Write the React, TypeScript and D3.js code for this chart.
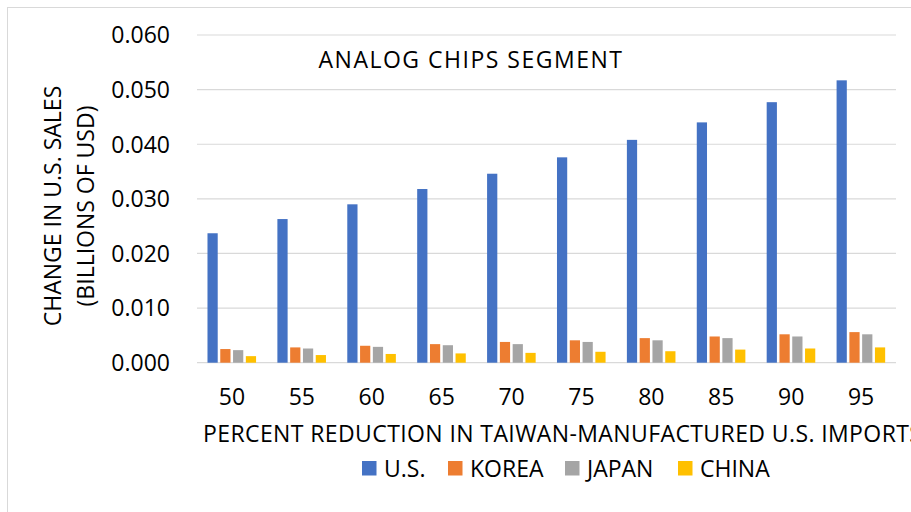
import React from "react";
import * as d3 from "d3";

// Percent reduction categories (x axis)
const categories: string[] = ["50", "55", "60", "65", "70", "75", "80", "85", "90", "95"];

// Change in U.S. sales, billions of USD, per origin
const usValues: number[] = [0.0237, 0.0263, 0.029, 0.0318, 0.0346, 0.0376, 0.0408, 0.044, 0.0477, 0.0517];
const koreaValues: number[] = [0.0025, 0.0028, 0.0031, 0.0034, 0.0038, 0.0041, 0.0045, 0.0048, 0.0052, 0.0056];
const japanValues: number[] = [0.0023, 0.0026, 0.0029, 0.0032, 0.0034, 0.0038, 0.0041, 0.0045, 0.0048, 0.0052];
const chinaValues: number[] = [0.0012, 0.0014, 0.0016, 0.0017, 0.0018, 0.002, 0.0021, 0.0024, 0.0026, 0.0028];

const seriesNames: string[] = ["U.S.", "KOREA", "JAPAN", "CHINA"];
const seriesColors: string[] = ["#4472C4", "#ED7D31", "#A5A5A5", "#FFC000"];
const yTicks: number[] = [0, 0.01, 0.02, 0.03, 0.04, 0.05, 0.06];

const W = 911;
const H = 512;
const FONT = "'Open Sans', 'Noto Sans', sans-serif";

export default function App() {
  const seriesValues = [usValues, koreaValues, japanValues, chinaValues];

  const plotLeft = 197;
  const plotRight = 896;
  const y = d3.scaleLinear().domain([0, 0.06]).range([362.7, 35]);
  const x0 = d3.scaleBand<string>().domain(categories).range([plotLeft, plotRight]).padding(0);
  const step = x0.step();
  const x1 = d3
    .scaleBand<string>()
    .domain(seriesNames)
    .range([step * 0.15, step * 0.845])
    .paddingInner(0.2)
    .paddingOuter(0);

  const fmt = d3.format(".3f");

  // legend layout
  const legendX = [362, 448, 565, 678];

  return (
    <svg
      width={W}
      height={H}
      style={{ position: "absolute", left: 0, top: 0, background: "#fff" }}
      fontFamily={FONT}
    >
      <rect x={0} y={0} width={W} height={H} fill="#fff" />
      <rect x={7.5} y={7.5} width={1200} height={1200} fill="none" stroke="#d9d9d9" strokeWidth={1} />

      {/* gridlines */}
      {yTicks.map((t) => (
        <line
          key={"g" + t}
          x1={plotLeft}
          x2={plotRight}
          y1={y(t)}
          y2={y(t)}
          stroke="#d9d9d9"
          strokeWidth={1.2}
        />
      ))}

      {/* y tick labels */}
      {yTicks.map((t) => (
        <text
          key={"t" + t}
          x={170}
          y={y(t)}
          dy="0.36em"
          textAnchor="end"
          fontSize={23}
          fill="#000"
        >
          {fmt(t)}
        </text>
      ))}

      {/* bars */}
      {categories.map((c, i) => (
        <g key={c} transform={`translate(${x0(c)},0)`}>
          {seriesNames.map((s, j) => {
            const v = seriesValues[j][i];
            return (
              <rect
                key={s}
                x={x1(s)}
                y={y(v)}
                width={x1.bandwidth()}
                height={y(0) - y(v)}
                fill={seriesColors[j]}
              />
            );
          })}
        </g>
      ))}

      {/* x tick labels */}
      {categories.map((c) => (
        <text
          key={"x" + c}
          x={(x0(c) as number) + step / 2}
          y={397}
          dy="0.36em"
          textAnchor="middle"
          fontSize={23}
          fill="#000"
        >
          {c}
        </text>
      ))}

      {/* chart title */}
      <text
        x={471}
        y={60}
        dy="0.36em"
        textAnchor="middle"
        fontSize={23}
        letterSpacing={1.5}
        fill="#000"
      >
        ANALOG CHIPS SEGMENT
      </text>

      {/* y axis title */}
      <g transform="translate(53,206) rotate(-90)">
        <text x={0} y={0} dy="0.36em" textAnchor="middle" fontSize={23} fill="#000">
          CHANGE IN U.S. SALES
        </text>
        <text x={0} y={33} dy="0.36em" textAnchor="middle" fontSize={23} fill="#000">
          (BILLIONS OF USD)
        </text>
      </g>

      {/* x axis title */}
      <text
        x={203}
        y={434}
        dy="0.36em"
        textAnchor="start"
        fontSize={23}
        letterSpacing={0.4}
        fill="#000"
      >
        PERCENT REDUCTION IN TAIWAN-MANUFACTURED U.S. IMPORTS
      </text>

      {/* legend */}
      {seriesNames.map((s, j) => (
        <g key={"l" + s} transform={`translate(${legendX[j]},461)`}>
          <rect x={0} y={0} width={14.5} height={14.5} fill={seriesColors[j]} />
          <text x={22} y={7.5} dy="0.36em" fontSize={23} fill="#000">
            {s}
          </text>
        </g>
      ))}
    </svg>
  );
}
